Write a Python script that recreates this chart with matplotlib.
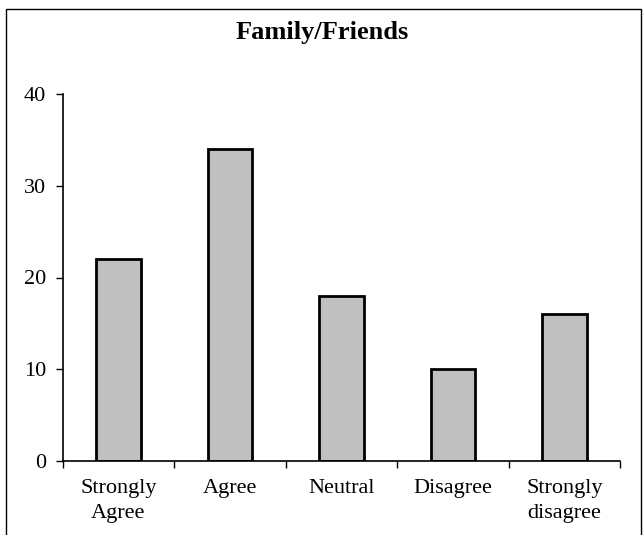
import matplotlib.pyplot as plt
from matplotlib.patches import Rectangle

# Datos del gráfico
categorias = ["Strongly\nAgree", "Agree", "Neutral", "Disagree", "Strongly\ndisagree"]
valores = [22, 34, 18, 10, 16]
titulo = "Family/Friends"

plt.rcParams["font.family"] = ["Liberation Serif", "DejaVu Serif"]

fig = plt.figure(figsize=(6.44, 5.35), dpi=100)

# marco exterior (cortado por abajo, como en la imagen)
marco = Rectangle((5.5 / 644, -0.05), (641 - 5.5) / 644, (535 - 9) / 535 + 0.05,
                  transform=fig.transFigure, fill=False, edgecolor="black",
                  linewidth=1.0, clip_on=False)
fig.patches.append(marco)

ax = fig.add_axes([62.7 / 644, (535 - 461) / 535, (620 - 62.7) / 644, (461 - 94) / 535])

posiciones = range(len(categorias))
ax.bar(posiciones, valores, width=0.4, color="#C0C0C0", edgecolor="black", linewidth=2)

ax.set_xlim(-0.5, len(categorias) - 0.5)
ax.set_ylim(0, 40)
ax.set_yticks([0, 10, 20, 30, 40])

# marcas del eje x entre categorías
ax.set_xticks([i - 0.5 for i in range(len(categorias) + 1)])
ax.set_xticklabels([])
ax.set_xticks(list(posiciones), minor=True)
ax.set_xticklabels(categorias, minor=True, fontsize=16, linespacing=1.4)
ax.tick_params(axis="x", which="minor", length=0, pad=13)
ax.tick_params(axis="x", which="major", length=5, width=1, direction="out")
ax.tick_params(axis="y", length=5, width=1, direction="out", labelsize=16, pad=7)

for lado in ["top", "right"]:
    ax.spines[lado].set_visible(False)
ax.spines["left"].set_linewidth(1.2)
ax.spines["bottom"].set_linewidth(1.2)

fig.text(0.5, (535 - 32) / 535, titulo, ha="center", va="center",
         fontsize=19, fontweight="bold")

plt.savefig("out.png", dpi=100)
